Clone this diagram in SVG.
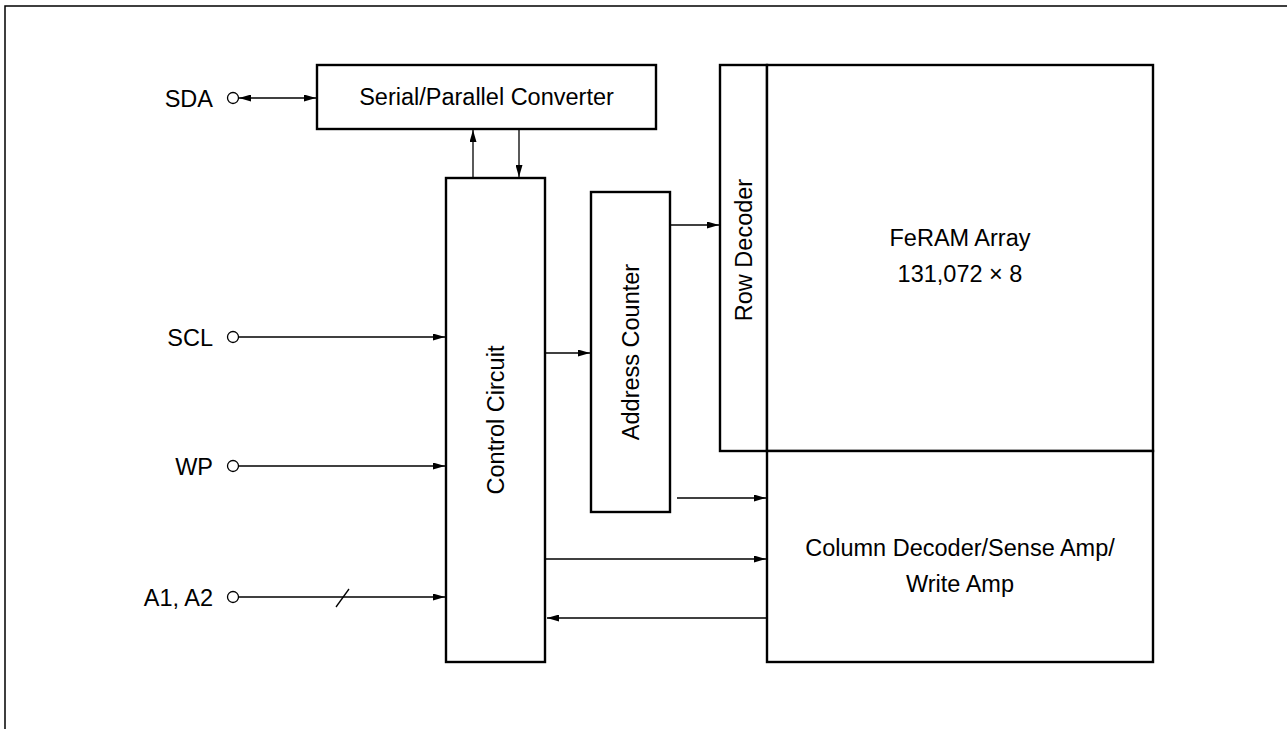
<svg xmlns="http://www.w3.org/2000/svg" width="1287" height="729" viewBox="0 0 1287 729">
<style>
.box{fill:#fff;stroke:#000;stroke-width:2.4}
.ln{fill:none;stroke:#000;stroke-width:1.3}
.pin{fill:#fff;stroke:#000;stroke-width:1.3}
text{font-family:"Liberation Sans",Arial,sans-serif;font-size:23.5px;fill:#000}
.m{text-anchor:middle}
.e{text-anchor:end}
</style>
<defs>
<marker id="ah" viewBox="0 0 12 7" refX="12" refY="3.5" markerWidth="12" markerHeight="7" markerUnits="userSpaceOnUse" orient="auto-start-reverse">
<path d="M0,0 L12,3.5 L0,7 Z" fill="#000"/>
</marker>
</defs>
<rect x="5" y="6" width="1300" height="740" fill="none" stroke="#000" stroke-width="1.5"/>
<g id="serial"><rect class="box" x="317" y="65" width="339" height="64"/><text class="m" x="486.5" y="105">Serial/Parallel Converter</text></g>
<g id="control"><rect class="box" x="446" y="178" width="99" height="484"/><text class="m" transform="translate(504,420) rotate(-90)">Control Circuit</text></g>
<g id="addr"><rect class="box" x="591" y="192" width="79" height="320"/><text class="m" transform="translate(639,352) rotate(-90)">Address Counter</text></g>
<g id="rowdec"><rect class="box" x="720" y="65" width="47" height="386"/><text class="m" transform="translate(752,250) rotate(-90)">Row Decoder</text></g>
<g id="feram"><rect class="box" x="767" y="65" width="386" height="386"/><text class="m" x="960" y="246">FeRAM Array</text><text class="m" x="960" y="282">131,072 × 8</text></g>
<g id="coldec"><rect class="box" x="767" y="451" width="386" height="211"/><text class="m" x="960" y="556">Column Decoder/Sense Amp/</text><text class="m" x="960" y="592">Write Amp</text></g>
<g id="pins">
<text class="e" x="213" y="107">SDA</text><circle class="pin" cx="233" cy="98" r="5.5"/>
<text class="e" x="213" y="346">SCL</text><circle class="pin" cx="233" cy="337" r="5.5"/>
<text class="e" x="213" y="475">WP</text><circle class="pin" cx="233" cy="466" r="5.5"/>
<text class="e" x="213" y="606">A1, A2</text><circle class="pin" cx="233" cy="597" r="5.5"/>
</g>
<g id="connectors">
<line class="ln" x1="239" y1="98" x2="316" y2="98" marker-start="url(#ah)" marker-end="url(#ah)"/>
<line class="ln" x1="473" y1="178" x2="473" y2="130" marker-end="url(#ah)"/>
<line class="ln" x1="519" y1="129" x2="519" y2="177" marker-end="url(#ah)"/>
<line class="ln" x1="239" y1="337" x2="445" y2="337" marker-end="url(#ah)"/>
<line class="ln" x1="239" y1="466" x2="445" y2="466" marker-end="url(#ah)"/>
<line class="ln" x1="239" y1="597" x2="445" y2="597" marker-end="url(#ah)"/>
<line class="ln" x1="336" y1="607" x2="349" y2="589"/>
<line class="ln" x1="545" y1="353" x2="590" y2="353" marker-end="url(#ah)"/>
<line class="ln" x1="670" y1="225" x2="719" y2="225" marker-end="url(#ah)"/>
<line class="ln" x1="677" y1="498" x2="766" y2="498" marker-end="url(#ah)"/>
<line class="ln" x1="545" y1="559" x2="766" y2="559" marker-end="url(#ah)"/>
<line class="ln" x1="767" y1="618" x2="547" y2="618" marker-end="url(#ah)"/>
</g>
</svg>
